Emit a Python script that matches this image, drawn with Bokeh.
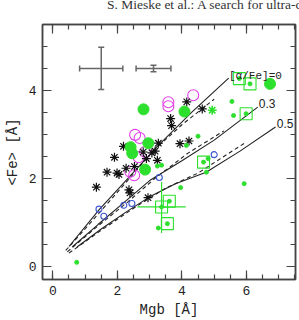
from bokeh.plotting import figure
from bokeh.layouts import column
from bokeh.models import (ColumnDataSource, FixedTicker, LinearAxis, Whisker,
                          Label, Range1d, TeeHead, Div, CustomLabelingPolicy)
from bokeh.embed import file_html
from bokeh.resources import INLINE

# --- SSP model tracks, Mgb vs <Fe> -------------------------------------
# solid: [alpha/Fe] = 0, 0.3, 0.5
m0_sx = [0.50, 1.45, 2.20, 3.20, 4.30, 5.45]
m0_sy = [0.45, 1.30, 1.90, 2.70, 3.50, 4.28]
m3_sx = [0.60, 1.40, 2.20, 3.00, 4.00, 5.00, 6.35]
m3_sy = [0.44, 0.95, 1.45, 1.95, 2.40, 2.87, 3.62]
m5_sx = [0.75, 1.50, 2.30, 3.00, 3.80, 4.75, 5.80, 6.90]
m5_sy = [0.44, 0.85, 1.25, 1.58, 1.88, 2.14, 2.62, 3.17]
# dashed companions
m0_dx = [0.40, 1.30, 2.20, 3.10, 4.00, 5.00]
m0_dy = [0.36, 1.10, 1.85, 2.62, 3.22, 3.80]
m3_dx = [0.45, 1.40, 2.30, 3.20, 4.20, 5.30]
m3_dy = [0.33, 0.92, 1.45, 2.02, 2.58, 3.08]
m5_dx = [0.50, 1.50, 2.50, 3.50, 4.50, 6.00]
m5_dy = [0.30, 0.82, 1.32, 1.78, 2.12, 2.83]

track_labels = ["[\u03b1/Fe]=0", "0.3", "0.5"]
label_x = [5.46, 6.38, 6.94]
label_y = [4.34, 3.70, 3.25]

# --- observed objects ----------------------------------------------------
star_x = [1.35, 1.68, 1.91, 1.99, 2.05, 2.19, 2.27, 2.36, 2.39, 2.53, 2.80,
          2.90, 2.95, 3.07, 3.17, 3.24, 3.27, 3.65, 3.68, 3.94, 4.22, 4.15, 4.63]
star_y = [1.80, 2.14, 2.48, 2.12, 2.09, 2.73, 2.23, 1.74, 1.67, 2.27, 2.60,
          2.45, 1.56, 2.58, 2.62, 2.41, 2.80, 3.36, 3.20, 2.79, 2.85, 3.74, 3.58]

big_green_x = [2.81, 4.08, 6.73, 2.41, 2.46, 2.96, 2.86]
big_green_y = [3.57, 3.52, 4.15, 2.71, 2.57, 2.80, 2.20]

magenta_x = [3.58, 3.58, 4.35, 2.55, 2.69, 2.86, 2.66, 2.40, 2.52]
magenta_y = [3.73, 3.64, 3.89, 2.99, 2.92, 2.60, 2.48, 2.15, 2.07]

small_green_x = [0.74, 4.50, 3.24, 3.37, 4.14, 4.81, 4.76, 3.96, 5.93, 3.27, 5.55, 5.60]
small_green_y = [0.09, 2.96, 2.28, 2.30, 2.75, 2.45, 2.14, 1.79, 1.88, 0.87, 3.75, 3.43]

square_x = [5.78, 6.11, 5.99, 4.67, 3.37, 3.61, 3.55]
square_y = [4.27, 4.15, 3.47, 2.37, 1.35, 1.48, 0.97]

# error bar on one of the boxed objects
sq_err_x = [3.37]
sq_err_y = [1.35]
sq_err_dx = [0.75]
sq_err_dy_lo = [0.59]
sq_err_dy_hi = [0.57]

blue_x = [1.43, 1.58, 2.20, 2.45, 3.30, 5.00]
blue_y = [1.30, 1.14, 1.39, 1.43, 2.02, 2.54]

gstar_x = [4.94]
gstar_y = [3.55]

# typical error bars (upper left)
err_x = [1.50, 3.12]
err_y = [4.50, 4.50]
err_dx = [0.67, 0.54]
err_dy = [0.48, 0.075]

x_ticks = [0, 2, 4, 6]
y_ticks = [0, 2, 4]

header_text = "S. Mieske et al.: A search for ultra-compact dwarf galaxies"

GREEN = "#2ee02e"
MAGENTA = "#e040e8"
BLUE = "#3b55d0"
AX = "#444444"
MONO = "Liberation Mono"

# running page header above the panel
header = Div(
    text=('<div style="position:relative; top:-3px; padding-left:107px; '
          'white-space:nowrap; font-family:\'Liberation Serif\'; font-size:13.5px; '
          'line-height:13px; color:#333333;">' + header_text + '</div>'),
    width=299, height=12, margin=0,
    styles={"overflow": "hidden"})

p = figure(width=299, height=308, output_backend="svg", toolbar_location=None,
           x_range=Range1d(-0.32, 7.52), y_range=Range1d(-0.30, 5.50),
           min_border_left=42, min_border_right=2, min_border_top=12,
           min_border_bottom=41, margin=0)
p.grid.visible = False
p.outline_line_color = AX
p.outline_line_width = 1.5
p.background_fill_color = "white"
p.border_fill_color = "white"

xt = FixedTicker(ticks=x_ticks, minor_ticks=[i * 0.5 for i in range(0, 16)])
yt = FixedTicker(ticks=y_ticks, minor_ticks=[i * 0.5 for i in range(0, 12)])

# mirror axes carry tick marks only
no_labels = CustomLabelingPolicy(code="return []")


def style_axis(ax, show_labels):
    ax.axis_line_color = AX
    ax.axis_line_width = 1.5
    ax.major_tick_line_color = AX
    ax.minor_tick_line_color = AX
    ax.major_tick_line_width = 1.2
    ax.minor_tick_line_width = 1.2
    ax.major_tick_in = 9
    ax.major_tick_out = 0
    ax.minor_tick_in = 5
    ax.minor_tick_out = 0
    if show_labels:
        ax.major_label_text_font = MONO
        ax.major_label_text_font_size = "13px"
        ax.major_label_text_color = "#222222"
        ax.axis_label_text_font = MONO
        ax.axis_label_text_font_size = "14px"
        ax.axis_label_text_font_style = "normal"
        ax.axis_label_text_color = "#222222"
    else:
        ax.major_label_policy = no_labels
        ax.major_label_text_font_size = "1px"
        ax.major_label_standoff = 0


p.xaxis.ticker = xt
p.yaxis.ticker = yt
p.xaxis.axis_label = "Mgb [\u00c5]"
p.yaxis.axis_label = "<Fe> [\u00c5]"
style_axis(p.xaxis[0], True)
style_axis(p.yaxis[0], True)
p.xaxis.major_label_standoff = 6
p.yaxis.major_label_standoff = 6
p.xaxis.axis_label_standoff = 4

top = LinearAxis(ticker=xt)
right = LinearAxis(ticker=yt)
style_axis(top, False)
style_axis(right, False)
p.add_layout(top, "above")
p.add_layout(right, "right")

# model tracks
for xs, ys in [(m0_sx, m0_sy), (m3_sx, m3_sy), (m5_sx, m5_sy)]:
    p.line(xs, ys, line_color="#222222", line_width=1.1)
for xs, ys in [(m0_dx, m0_dy), (m3_dx, m3_dy), (m5_dx, m5_dy)]:
    p.line(xs, ys, line_color="#222222", line_width=1.1, line_dash="4 3")

p.add_layout(Label(x=label_x[0], y=label_y[0], text=track_labels[0],
                   text_font=MONO, text_font_size="11px", text_color="#222222",
                   text_baseline="middle"))
for t, lx, ly in zip(track_labels[1:], label_x[1:], label_y[1:]):
    p.add_layout(Label(x=lx, y=ly, text=t, text_font="Liberation Sans",
                       text_font_size="12px", text_color="#222222",
                       text_baseline="middle"))

# typical error bars
esrc = ColumnDataSource(dict(x=err_x, y=err_y,
                             xl=[a - b for a, b in zip(err_x, err_dx)],
                             xu=[a + b for a, b in zip(err_x, err_dx)],
                             yl=[a - b for a, b in zip(err_y, err_dy)],
                             yu=[a + b for a, b in zip(err_y, err_dy)]))
for dim, base, lo, hi in [("width", "y", "xl", "xu"), ("height", "x", "yl", "yu")]:
    p.add_layout(Whisker(source=esrc, base=base, lower=lo, upper=hi, dimension=dim,
                         line_color="#666666", line_width=1.5,
                         lower_head=TeeHead(size=6, line_color="#666666", line_width=1.5),
                         upper_head=TeeHead(size=6, line_color="#666666", line_width=1.5)))

# green error bars on boxed object
gsrc = ColumnDataSource(dict(x=sq_err_x, y=sq_err_y,
                             xl=[a - b for a, b in zip(sq_err_x, sq_err_dx)],
                             xu=[a + b for a, b in zip(sq_err_x, sq_err_dx)],
                             yl=[a - b for a, b in zip(sq_err_y, sq_err_dy_lo)],
                             yu=[a + b for a, b in zip(sq_err_y, sq_err_dy_hi)]))
p.segment(x0="xl", x1="xu", y0="y", y1="y", source=gsrc, line_color=GREEN, line_width=1.2)
p.segment(x0="x", x1="x", y0="yl", y1="yu", source=gsrc, line_color=GREEN, line_width=1.2)

# points
p.scatter(magenta_x, magenta_y, marker="circle", size=11, fill_color=None,
          line_color=MAGENTA, line_width=1.1)
p.scatter(star_x, star_y, marker="asterisk", size=9, line_color="#111111", line_width=1.2)
p.scatter(big_green_x, big_green_y, marker="circle", size=11, fill_color=GREEN,
          line_color=GREEN)
p.scatter(square_x, square_y, marker="square", size=12, fill_color=None,
          line_color=GREEN, line_width=1.1)
p.scatter(square_x, square_y, marker="circle", size=4, fill_color=GREEN, line_color=GREEN)
p.scatter(small_green_x, small_green_y, marker="circle", size=4, fill_color=GREEN,
          line_color=GREEN)
p.scatter(gstar_x, gstar_y, marker="asterisk", size=9, line_color=GREEN, line_width=1.6)
p.scatter(blue_x, blue_y, marker="circle", size=6, fill_color=None,
          line_color=BLUE, line_width=1.1)

page = column(header, p, spacing=0)
open("out.html", "w").write(file_html(page, INLINE))
